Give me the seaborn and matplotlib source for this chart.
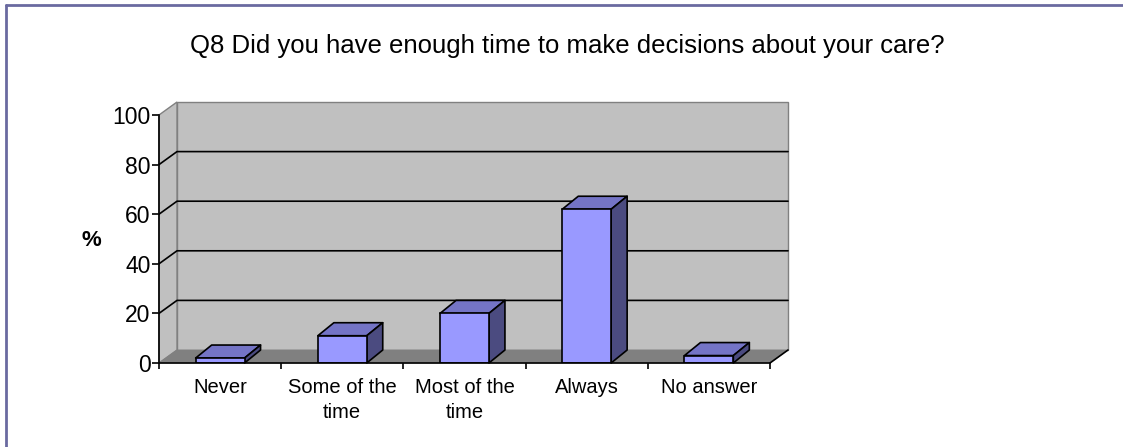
import matplotlib
matplotlib.use("Agg")
import matplotlib.pyplot as plt
import seaborn as sns
import numpy as np
from matplotlib.patches import Polygon, Rectangle
from matplotlib.lines import Line2D
from matplotlib.transforms import IdentityTransform, offset_copy

# --- data -------------------------------------------------------------
categories = ["Never", "Some of the\ntime", "Most of the\ntime", "Always", "No answer"]
percent = [2, 11, 20, 62, 3]
y_ticks = [0, 20, 40, 60, 80, 100]
title = "Q8 Did you have enough time to make decisions about your care?"

# --- style ------------------------------------------------------------
sns.set_theme(style="white")
plt.rcParams["font.family"] = ["Liberation Sans", "DejaVu Sans"]

FRONT = "#9999FF"
TOP = "#7474C6"
SIDE = "#4B4B80"
WALL = "#C0C0C0"
FLOOR = "#808080"
EDGE = "#808080"
BORDER = "#6A6AA0"

W_PX, H_PX, DPI = 1123, 447, 100
WALL_DX, WALL_DY = 18, 13      # depth of walls/floor in pixels
BAR_DX, BAR_DY = 16, 13        # depth of the columns in pixels

fig = plt.figure(figsize=(W_PX / DPI, H_PX / DPI), dpi=DPI)
fig.patch.set_facecolor("white")

# front plane of the plot box
left, right, top, bottom = 159, 770, 115, 363
ax = fig.add_axes([left / W_PX, (H_PX - bottom) / H_PX,
                   (right - left) / W_PX, (bottom - top) / H_PX])
ax.set_facecolor("none")

sns.barplot(x=list(range(len(categories))), y=percent, color=FRONT,
            saturation=1, width=0.4, edgecolor="black", linewidth=1.2,
            ax=ax, native_scale=True)

ax.set_xlim(-0.5, len(categories) - 0.5)
ax.set_ylim(0, 100)
ax.set_autoscale_on(False)

to_px = ax.transData.transform
ident = IdentityTransform()


def poly(points, **kw):
    p = Polygon(points, closed=True, transform=ident, clip_on=False, **kw)
    ax.add_patch(p)
    return p


x0, x1 = ax.get_xlim()

# back wall
back = offset_copy(ax.transData, fig=fig, x=WALL_DX, y=WALL_DY, units="dots")
ax.add_patch(Rectangle((x0, 0), x1 - x0, 100, transform=back, facecolor=WALL,
                       edgecolor=EDGE, linewidth=1.0, clip_on=False, zorder=0.5))

# left side wall
fl_bot = to_px((x0, 0))
fl_top = to_px((x0, 100))
poly([fl_bot, fl_top, fl_top + (WALL_DX, WALL_DY), fl_bot + (WALL_DX, WALL_DY)],
     facecolor=WALL, edgecolor=EDGE, linewidth=1.0, zorder=0.6)

# gridlines across side wall and back wall
for v in y_ticks[1:-1]:
    a = to_px((x0, v))
    b = a + (WALL_DX, WALL_DY)
    c = to_px((x1, v)) + (WALL_DX, WALL_DY)
    ax.add_line(Line2D([a[0], b[0], c[0]], [a[1], b[1], c[1]], transform=ident,
                       color="black", linewidth=1.2, clip_on=False, zorder=0.7))

# floor
fr_bot = to_px((x1, 0))
poly([fl_bot, fr_bot, fr_bot + (WALL_DX, WALL_DY), fl_bot + (WALL_DX, WALL_DY)],
     facecolor=FLOOR, edgecolor=FLOOR, linewidth=0.5, zorder=0.8)
ax.add_line(Line2D([fr_bot[0], fr_bot[0] + WALL_DX], [fr_bot[1], fr_bot[1] + WALL_DY],
                   transform=ident, color="black", linewidth=1.2,
                   clip_on=False, zorder=0.9))

# column tops and sides from the seaborn bars
for bar in ax.patches:
    if not isinstance(bar, Rectangle) or bar.get_facecolor()[:3] != matplotlib.colors.to_rgb(FRONT):
        continue
    bx, bw, bh = bar.get_x(), bar.get_width(), bar.get_height()
    tl = to_px((bx, bh))
    tr = to_px((bx + bw, bh))
    br = to_px((bx + bw, 0))
    d = np.array([BAR_DX, BAR_DY])
    poly([tl, tr, tr + d, tl + d], facecolor=TOP, edgecolor="black",
         linewidth=1.2, joinstyle="round", zorder=2)
    poly([tr, br, br + d, tr + d], facecolor=SIDE, edgecolor="black",
         linewidth=1.2, joinstyle="round", zorder=2)
    bar.set_zorder(3)

# axes lines and ticks
for s in ("top", "right"):
    ax.spines[s].set_visible(False)
for s in ("left", "bottom"):
    ax.spines[s].set_color("black")
    ax.spines[s].set_linewidth(1.2)
    ax.spines[s].set_zorder(4)

ax.set_yticks(y_ticks)
ax.set_yticklabels([str(v) for v in y_ticks])
ax.tick_params(axis="y", direction="out", length=5, width=1.2, color="black",
               labelsize=16.5, labelcolor="black", pad=1, left=True)
ax.set_xticks(range(len(categories)))
ax.set_xticklabels(categories)
ax.set_xticks(np.arange(-0.5, len(categories), 1.0), minor=True)
ax.tick_params(axis="x", which="major", length=0, labelsize=14.5,
               labelcolor="black", pad=11)
ax.tick_params(axis="x", which="minor", direction="out", length=4, width=1.2,
               color="black", bottom=True)
for lab in ax.get_xticklabels():
    lab.set_linespacing(1.4)
ax.set_xlabel("")
ax.set_ylabel("")
ax.grid(False)

# titles
fig.text(567 / W_PX, 1 - 53 / H_PX, title, ha="center", va="baseline",
         fontsize=18.5, color="black")
fig.text(91 / W_PX, 1 - 240 / H_PX, "%", ha="center", va="center",
         fontsize=16, fontweight="bold", color="black")

# frame around the chart area
fig.add_artist(Line2D([6 / W_PX, 1], [1 - 5 / H_PX, 1 - 5 / H_PX],
                      transform=fig.transFigure, color=BORDER, linewidth=2))
fig.add_artist(Line2D([6 / W_PX, 6 / W_PX], [0, 1 - 5 / H_PX],
                      transform=fig.transFigure, color=BORDER, linewidth=2))

fig.savefig("out.png", dpi=DPI)
